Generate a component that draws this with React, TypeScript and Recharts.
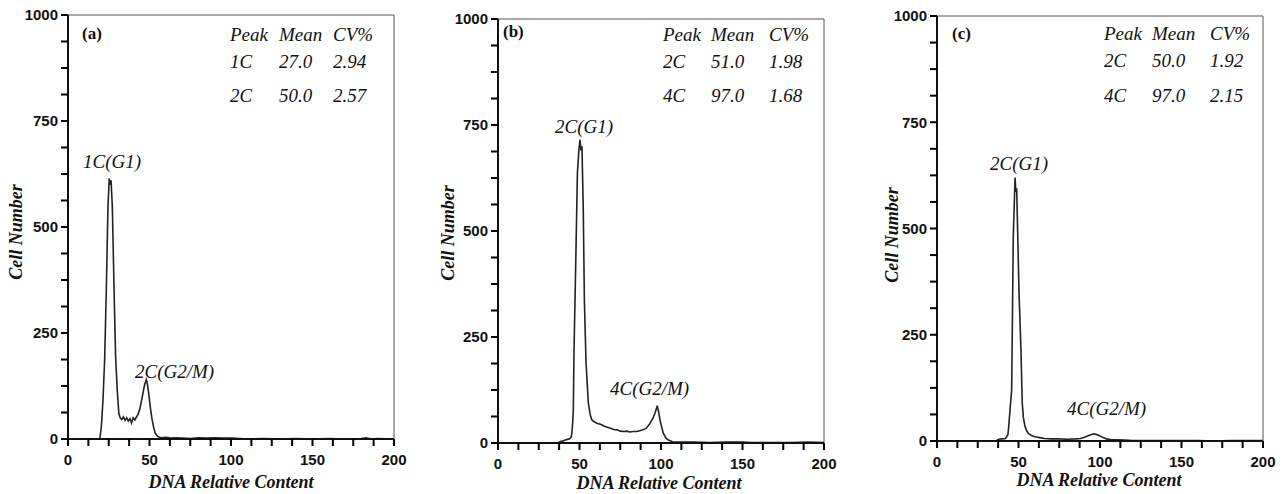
import React from "react";
import { LineChart, Line, XAxis, YAxis, ReferenceArea } from "recharts";

// ---- Data (channel = DNA relative content, count = cell number) ----
const channelsA = [0, 10, 19.5, 20.5, 21.5, 22.5, 23.5, 24.5, 25.3, 25.8, 26.4, 27.2, 28, 28.5, 29.2, 30.2, 31.2, 32, 33, 34, 35, 36, 37, 38, 39, 40, 41, 42, 43, 44, 45, 46, 47, 48, 48.6, 49.5, 50.5, 51.5, 52.5, 53.5, 55, 57, 60, 63, 66, 70, 75, 80, 85, 90, 95, 100, 105, 110, 120, 130, 140, 150, 160, 170, 180, 183, 186, 190, 200];
const countsA = [0, 0, 0, 30, 95, 190, 350, 545, 615, 600, 610, 548, 400, 310, 195, 115, 60, 50, 46, 52, 44, 50, 42, 48, 38, 50, 45, 52, 58, 70, 88, 108, 128, 140, 132, 108, 75, 48, 28, 14, 6, 3, 4, 2, 3, 2, 1, 3, 2, 3, 2, 2, 1, 0, 1, 0, 1, 0, 1, 0, 1, 3, 0, 1, 0];

const channelsB = [0, 30, 37, 38, 40, 42, 44, 45, 45.5, 46.2, 46.6, 47.7, 48.7, 49.6, 50.3, 50.9, 51.5, 52.3, 53, 54, 55.4, 56.5, 57.5, 59, 61, 63, 65, 67, 69, 71, 73, 75, 77, 79, 81, 83, 85, 87, 89, 91, 93, 95, 96.3, 97.7, 98.6, 99.4, 100.4, 101.4, 103, 104.5, 107, 110, 120, 130, 140, 150, 155, 160, 170, 180, 190, 200];
const countsB = [0, 0, 0, 3, 5, 8, 10, 15, 30, 75, 210, 425, 635, 690, 715, 690, 700, 555, 335, 190, 95, 68, 55, 50, 46, 44, 40, 37, 35, 32, 31, 28, 27, 28, 26, 27, 27, 29, 31, 35, 45, 58, 70, 88, 72, 54, 38, 23, 12, 7, 3, 2, 2, 1, 2, 2, 1, 1, 1, 1, 2, 1];

const channelsC = [0, 36, 38, 40, 42, 43.5, 44, 44.8, 45.8, 46.2, 46.8, 47.9, 48.3, 48.9, 49.5, 50.3, 51.5, 52.3, 53, 54, 55, 56, 58, 60, 63, 66, 70, 75, 80, 85, 88, 90, 92, 94, 96, 98, 100, 102, 104, 107, 110, 115, 120, 130, 140, 150, 160, 170, 180, 190, 200];
const countsC = [0, 0, 4, 5, 6, 15, 34, 73, 120, 262, 482, 620, 590, 592, 490, 352, 215, 89, 55, 34, 24, 18, 13, 10, 8, 6, 5, 5, 4, 5, 6, 8, 11, 14, 17, 15, 12, 8, 5, 3, 3, 2, 1, 1, 1, 1, 1, 0, 1, 1, 1];

const xTicks = [0, 12.5, 25, 37.5, 50, 62.5, 75, 87.5, 100, 112.5, 125, 137.5, 150, 162.5, 175, 187.5, 200];
const yTicks = [0, 62.5, 125, 187.5, 250, 312.5, 375, 437.5, 500, 562.5, 625, 687.5, 750, 812.5, 875, 937.5, 1000];
const xMajor = [0, 50, 100, 150, 200];
const yMajor = [0, 250, 500, 750, 1000];

const panelLabels = ["(a)", "(b)", "(c)"];
const tableHeader = ["Peak", "Mean", "CV%"];
const tableRows = [
  [["1C", "27.0", "2.94"], ["2C", "50.0", "2.57"]],
  [["2C", "51.0", "1.98"], ["4C", "97.0", "1.68"]],
  [["2C", "50.0", "1.92"], ["4C", "97.0", "2.15"]],
];
const peakLabels = [
  ["1C(G1)", "2C(G2/M)"],
  ["2C(G1)", "4C(G2/M)"],
  ["2C(G1)", "4C(G2/M)"],
];
const xTitle = "DNA Relative Content";
const yTitle = "Cell Number";

const build = (xs: number[], ys: number[]) => xs.map((x, i) => ({ x, y: ys[i] }));
const datasets = [build(channelsA, countsA), build(channelsB, countsB), build(channelsC, countsC)];

// ---- Layout ----
const panels = [
  { left: 0, width: 420, yW: 68, top: 15, right: 26, xH: 55 },
  { left: 420, width: 430, yW: 78, top: 19, right: 26, xH: 51 },
  { left: 850, width: 433, yW: 87, top: 16, right: 20, xH: 53 },
];

const textLayout = [
  { tag: [82, 39], cols: [230, 279, 333], rows: [41, 68, 102], peaks: [[83, 168], [135, 378]], xt: [231, 488], yt: [22, 232] },
  { tag: [503, 37], cols: [663, 711, 769], rows: [41, 68, 102], peaks: [[555, 133], [610, 395]], xt: [659, 489], yt: [454, 233] },
  { tag: [952, 39], cols: [1104, 1152, 1210], rows: [40, 67, 102], peaks: [[990, 170], [1067, 415]], xt: [1099, 486], yt: [898, 235] },
];

const TICK_LEN = 6;
const X_MARGIN = 9;
const Y_MARGIN = 3;
const tickFont = { fontFamily: "Liberation Sans, Arial, sans-serif", fontWeight: 700, fontSize: 15, fill: "#111" };
const serif = "Liberation Serif, Times New Roman, serif";

const XTick = (props: any) => {
  const { x, y, payload } = props;
  const v = payload.value;
  const axisY = y - X_MARGIN - TICK_LEN;
  return (
    <g>
      <rect x={x - 1} y={axisY} width={2} height={7} fill="#000" />
      {xMajor.includes(v) && (
        <text x={x} y={y} dy="0.71em" textAnchor="middle" {...tickFont}>
          {String(v)}
        </text>
      )}
    </g>
  );
};

const YTick = (props: any) => {
  const { x, y, payload } = props;
  const v = payload.value;
  const axisX = x + Y_MARGIN + TICK_LEN;
  return (
    <g>
      <rect x={axisX - 7} y={y - 1} width={7} height={2} fill="#000" />
      {yMajor.includes(v) && (
        <text x={x - 1} y={y} dy="0.355em" textAnchor="end" {...tickFont}>
          {String(v)}
        </text>
      )}
    </g>
  );
};

export default function App() {
  return (
    <div style={{ position: "absolute", left: 0, top: 0, width: 1283, height: 494, background: "#fff" }}>
      {panels.map((p, i) => (
        <div key={i} style={{ position: "absolute", left: p.left, top: 0, width: p.width, height: 494 }}>
          <LineChart
            width={p.width}
            height={494}
            data={datasets[i]}
            margin={{ top: p.top, right: p.right, bottom: 0, left: 0 }}
          >
            <ReferenceArea x1={0} x2={200} y1={0} y2={1000} fill="none" stroke="#555" strokeWidth={1} ifOverflow="visible" />
            <XAxis
              dataKey="x"
              type="number"
              domain={[0, 200]}
              ticks={xTicks}
              interval={0}
              height={p.xH}
              tickSize={TICK_LEN}
              tickMargin={X_MARGIN}
              tick={<XTick />}
              tickLine={false}
              axisLine={{ stroke: "#111", strokeWidth: 2 }}
              allowDataOverflow
            />
            <YAxis
              type="number"
              domain={[0, 1000]}
              ticks={yTicks}
              interval={0}
              width={p.yW}
              tickSize={TICK_LEN}
              tickMargin={Y_MARGIN}
              tick={<YTick />}
              tickLine={false}
              axisLine={{ stroke: "#111", strokeWidth: 2 }}
              allowDataOverflow
            />
            <Line
              type="linear"
              dataKey="y"
              stroke="#222"
              strokeWidth={1.6}
              dot={false}
              activeDot={false}
              isAnimationActive={false}
            />
          </LineChart>
        </div>
      ))}
      <svg width={1283} height={494} style={{ position: "absolute", left: 0, top: 0, pointerEvents: "none" }}>
        {textLayout.map((t, i) => (
          <g key={i} fill="#111">
            <text x={t.tag[0]} y={t.tag[1]} fontFamily={serif} fontWeight={700} fontSize={17}>
              {panelLabels[i]}
            </text>
            {tableHeader.map((h, j) => (
              <text key={"h" + j} x={t.cols[j]} y={t.rows[0]} fontFamily={serif} fontStyle="italic" fontSize={19}>
                {h}
              </text>
            ))}
            {tableRows[i].map((row, r) =>
              row.map((cell, j) => (
                <text key={"c" + r + j} x={t.cols[j]} y={t.rows[r + 1]} fontFamily={serif} fontStyle="italic" fontSize={19}>
                  {cell}
                </text>
              ))
            )}
            {peakLabels[i].map((lab, j) => (
              <text key={"p" + j} x={t.peaks[j][0]} y={t.peaks[j][1]} fontFamily={serif} fontStyle="italic" fontSize={19}>
                {lab}
              </text>
            ))}
            <text x={t.xt[0]} y={t.xt[1]} textAnchor="middle" fontFamily={serif} fontStyle="italic" fontWeight={700} fontSize={18}>
              {xTitle}
            </text>
            <text
              x={t.yt[0]}
              y={t.yt[1]}
              textAnchor="middle"
              fontFamily={serif}
              fontStyle="italic"
              fontWeight={700}
              fontSize={18}
              transform={`rotate(-90 ${t.yt[0]} ${t.yt[1]})`}
            >
              {yTitle}
            </text>
          </g>
        ))}
      </svg>
    </div>
  );
}
